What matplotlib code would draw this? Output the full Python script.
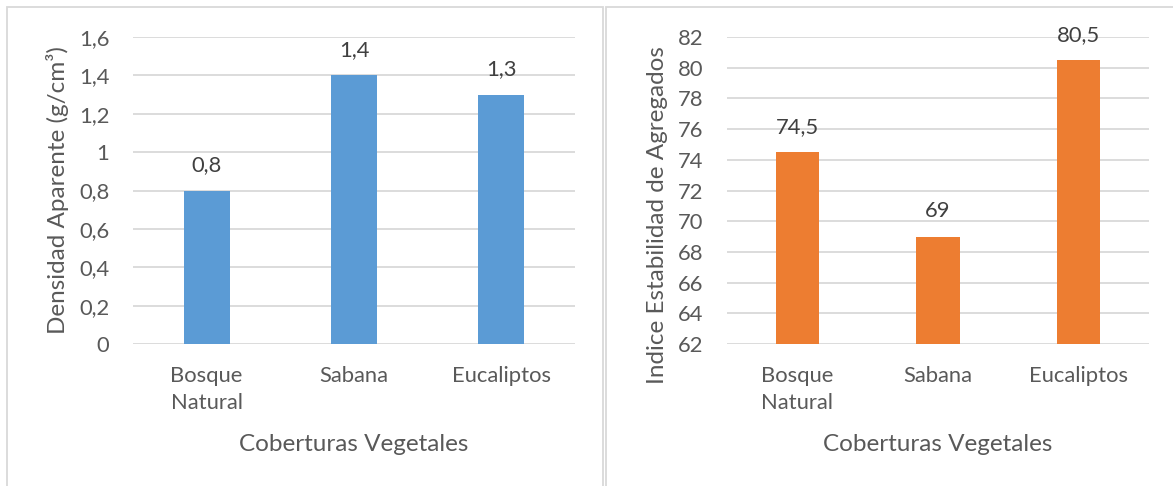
import matplotlib
matplotlib.use("Agg")
import matplotlib.pyplot as plt
from matplotlib.patches import Rectangle

plt.rcParams['font.family'] = ['Lato', 'DejaVu Sans']

categories = ["Bosque\nNatural", "Sabana", "Eucaliptos"]
densidad = [0.8, 1.4, 1.3]
densidad_labels = ["0,8", "1,4", "1,3"]
estabilidad = [74.5, 69, 80.5]
estabilidad_labels = ["74,5", "69", "80,5"]
left_yticks = [0, 0.2, 0.4, 0.6, 0.8, 1.0, 1.2, 1.4, 1.6]
left_yticklabels = ["0", "0,2", "0,4", "0,6", "0,8", "1", "1,2", "1,4", "1,6"]
right_yticks = [62, 64, 66, 68, 70, 72, 74, 76, 78, 80, 82]
right_yticklabels = [str(v) for v in right_yticks]

W, H = 1173, 486
fig = plt.figure(figsize=(W / 100, H / 100), dpi=100)

TICK = "#595959"
LAB = "#404040"
GRID = "#D9D9D9"
FS_TICK = 15.8
FS_LABEL = 17.5


def px_axes(x0, y0, x1, y1):
    return fig.add_axes([x0 / W, 1 - y1 / H, (x1 - x0) / W, (y1 - y0) / H])


# panel borders
for (x0, x1) in [(7, 603), (605.5, 1185)]:
    fig.patches.append(Rectangle((x0 / W, -0.05), (x1 - x0) / W, 1 - 7 / H + 0.05,
                                 transform=fig.transFigure, fill=False,
                                 edgecolor=GRID, linewidth=1.3))


def style(ax, yticks, yticklabels, ylim):
    ax.set_xlim(-0.5, 2.5)
    ax.set_ylim(*ylim)
    ax.set_yticks(yticks)
    ax.set_yticklabels(yticklabels)
    ax.set_xticks(range(len(categories)))
    ax.set_xticklabels(categories, linespacing=1.45)
    for s in ax.spines.values():
        s.set_visible(False)
    ax.tick_params(axis='both', length=0, labelsize=FS_TICK, labelcolor=TICK)
    ax.tick_params(axis='y', pad=17)
    ax.tick_params(axis='x', pad=16)
    ax.grid(axis='y', color=GRID, linewidth=1.3)
    ax.set_axisbelow(True)
    ax.patch.set_alpha(0)


ax1 = px_axes(133, 37, 575, 344)
style(ax1, left_yticks, left_yticklabels, (0, 1.6))
bars = ax1.bar(range(len(categories)), densidad, width=0.31, color="#5B9BD5", zorder=2)
for b, t in zip(bars, densidad_labels):
    ax1.annotate(t, (b.get_x() + b.get_width() / 2, b.get_height()), xytext=(0, 11),
                 textcoords='offset points', ha='center', va='bottom', fontsize=FS_TICK,
                 color=LAB, annotation_clip=False)
ax1.set_xlabel("Coberturas Vegetales", fontsize=FS_LABEL, color=TICK, labelpad=15)

ax2 = px_axes(727, 37, 1149, 344)
style(ax2, right_yticks, right_yticklabels, (62, 82))
bars = ax2.bar(range(len(categories)), estabilidad, width=0.31, color="#ED7D31", zorder=2)
for b, t in zip(bars, estabilidad_labels):
    ax2.annotate(t, (b.get_x() + b.get_width() / 2, b.get_height()), xytext=(0, 11),
                 textcoords='offset points', ha='center', va='bottom', fontsize=FS_TICK,
                 color=LAB, annotation_clip=False)
ax2.set_xlabel("Coberturas Vegetales", fontsize=FS_LABEL, color=TICK, labelpad=15)

fig.text(58 / W, 1 - 46 / H, "Densidad Aparente (g/cm³)", rotation=90, ha='center', va='top',
         fontsize=FS_LABEL, color=TICK)
fig.text(657 / W, 1 - 46 / H, "Indice Estabilidad de Agregados", rotation=90, ha='center',
         va='top', fontsize=FS_LABEL, color=TICK)

fig.savefig("out.png", dpi=100, facecolor="white")
